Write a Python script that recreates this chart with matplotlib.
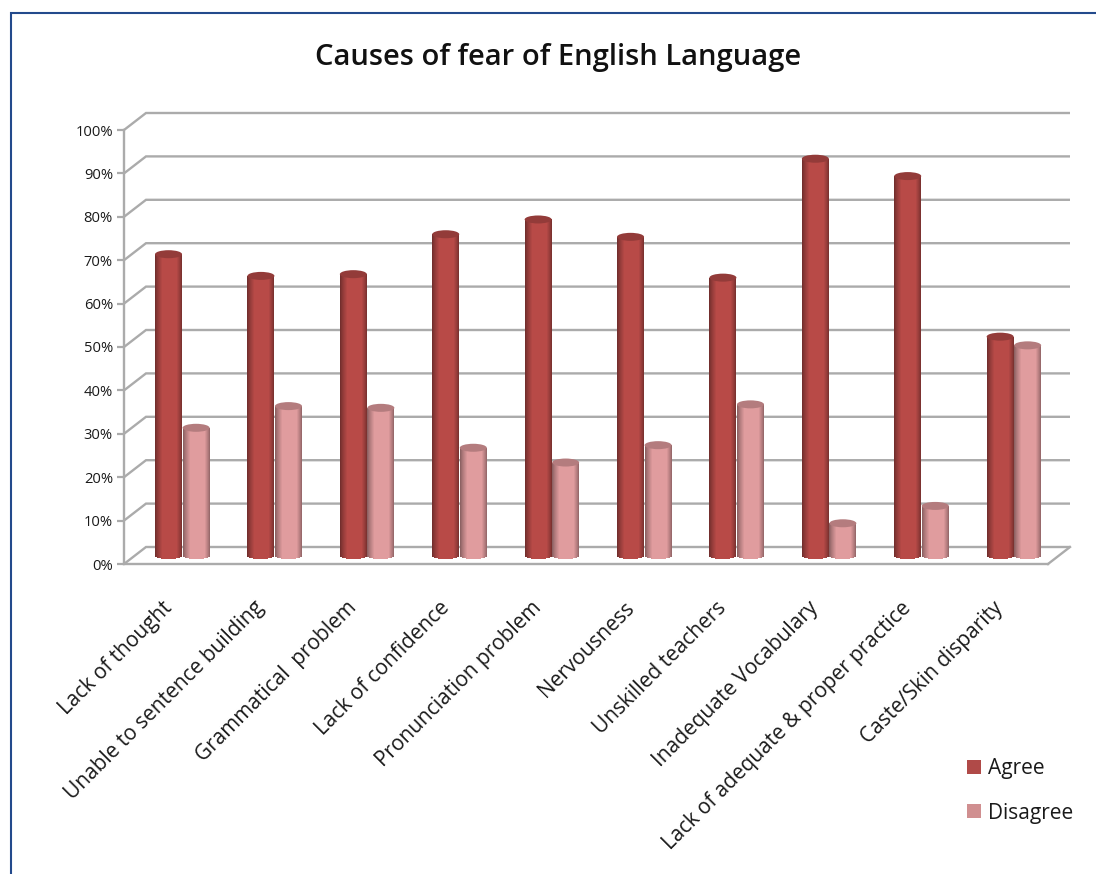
import numpy as np
import matplotlib
matplotlib.use("Agg")
import matplotlib.pyplot as plt
from matplotlib.lines import Line2D
from matplotlib.patches import Ellipse, Patch

categories = ["Lack of thought", "Unable to sentence building", "Grammatical  problem",
              "Lack of confidence", "Pronunciation problem", "Nervousness",
              "Unskilled teachers", "Inadequate Vocabulary",
              "Lack of adequate & proper practice", "Caste/Skin disparity"]
agree = [70, 65, 65.4, 74.6, 78, 74, 64.6, 92, 88, 51]
disagree = [30, 35, 34.6, 25.4, 22, 26, 35.4, 8, 12, 49]
yticks = list(range(0, 101, 10))
title = "Causes of fear of English Language"

W, H = 1096, 874
fig = plt.figure(figsize=(W / 100, H / 100), dpi=100, facecolor="white")
L, R, T, B = 124, 1048, 130, 564
ax = fig.add_axes([L / W, 1 - B / H, (R - L) / W, (B - T) / H])
ax.set_xlim(0, 10)
ax.set_ylim(0, 100)
ax.set_facecolor("none")
px = 10 / (R - L)      # data units per pixel, x
py = 100 / (B - T)     # data units per pixel, y

GRAY = "#ababab"
FONT = "Open Sans"
TXT = "#1a1a1a"

# 3-D walls
dx, dy = 22 * px, 17 * py
for v in yticks:
    ax.plot([0, dx, 10 + dx], [v, v + dy, v + dy], color=GRAY, lw=1.7, clip_on=False,
            solid_joinstyle="miter", solid_capstyle="butt", zorder=1)
ax.plot([10, 10 + dx], [0, dy], color=GRAY, lw=1.7, clip_on=False, zorder=1)

for s in ("top", "right"):
    ax.spines[s].set_visible(False)
for s in ("left", "bottom"):
    ax.spines[s].set_color(GRAY)
    ax.spines[s].set_linewidth(1.7)
    ax.spines[s].set_zorder(1.5)

ax.set_yticks(yticks)
ax.set_yticklabels([f"{v}%" for v in yticks], fontsize=10.6, family=FONT, color=TXT)
ax.tick_params(axis="y", length=5, width=1.6, color=GRAY, pad=3)
ax.set_xticks(np.arange(10) + 0.405)
ax.set_xticklabels(categories, rotation=45, ha="right", rotation_mode="anchor",
                   fontsize=15, family=FONT, color=TXT)
ax.tick_params(axis="x", length=0, pad=24)


def cylinder(xc, v, mid, z):
    """Shaded cylinder centred at xc with height v, built from one-pixel strips."""
    half = 13.5
    mid = np.array(mid, float)
    base_y = 6 * py
    for k in range(-13, 14):
        t = k / half
        left = np.clip((t + 1) / 0.55, 0, 1)
        right = np.clip((1 - t) / 0.4, 0, 1)
        shade = (0.58 + 0.42 * left ** 0.8) * (0.62 + 0.38 * right ** 0.8)
        col = np.clip(mid * shade, 0, 1)
        bot = base_y + 3 * py * (1 - np.sqrt(max(1 - t ** 2, 0))) - 1 * py
        ax.bar(xc + k * px, v + base_y - bot, width=px * 1.05, bottom=bot, color=col,
               linewidth=0, antialiased=False, clip_on=False, zorder=z)
    ax.add_patch(Ellipse((xc, v + base_y), 27 * px, 8 * py, facecolor=mid * 0.8,
                         edgecolor="none", clip_on=False, zorder=z + 0.1))


for i in range(10):
    cylinder(i + 0.482, agree[i], (0.72, 0.29, 0.28), 3)
    cylinder(i + 0.78, disagree[i], (0.88, 0.61, 0.62), 4)

ax.set_title(title, fontsize=21, family=FONT, fontweight="semibold", color="#111111",
             x=(558 - L) / (R - L), y=(B - 57) / (B - T), va="center", pad=0)

handles = [Patch(facecolor="#b04a48", label="Agree"), Patch(facecolor="#d08f90", label="Disagree")]
fig.legend(handles=handles, loc="upper left", bbox_to_anchor=(963 / W, 1 - 754 / H), frameon=False,
           prop={"family": FONT, "size": 15}, handlelength=0.67, handleheight=0.67,
           handletextpad=0.35, labelspacing=1.12, labelcolor=TXT, borderpad=0.2, borderaxespad=0)

# picture frame: left and top edges only
FR = "#234a8c"
fig.add_artist(Line2D([10.5 / W, 10.5 / W, 1], [0, 1 - 12.5 / H, 1 - 12.5 / H], color=FR, lw=1.5,
                      solid_joinstyle="miter"))

fig.savefig("out.png", dpi=100)
